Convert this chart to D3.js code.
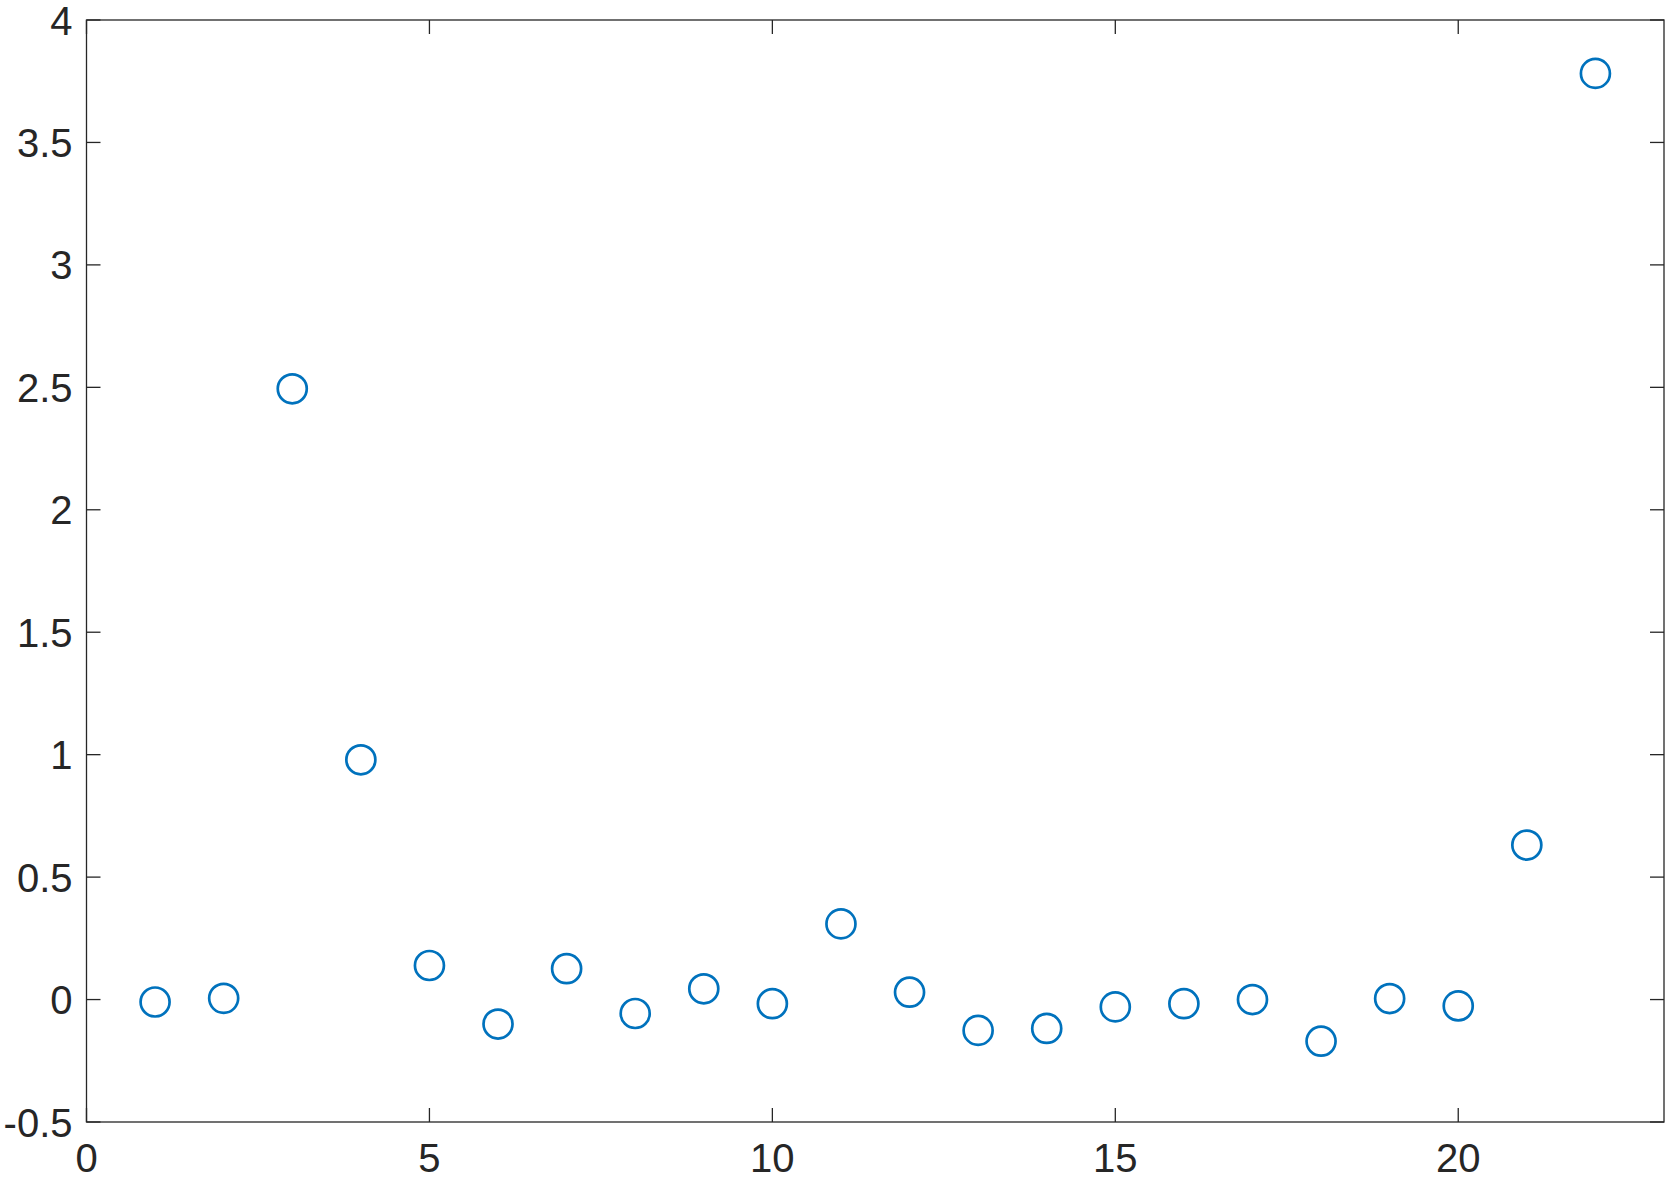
<!DOCTYPE html>
<html>
  <head>
    <meta charset="utf-8">
    <title>scatter</title>
    <script src="https://cdn.jsdelivr.net/npm/d3@7"></script>
    <style>
      body { margin: 0; background: white; }
      svg { display: block; background-color: white; }
      text { font-family: "Liberation Sans", Arial, sans-serif; fill: #262626; }
      .frame { fill: none; stroke: #262626; stroke-width: 1.3px; }
      .tick-line { stroke: #262626; stroke-width: 1.3px; }
      .dot { fill: none; stroke: #0072BD; stroke-width: 2.7px; }
    </style>
  </head>
  <body>
    <svg></svg>
    <script>
      // data
      var xValues = [1, 2, 3, 4, 5, 6, 7, 8, 9, 10, 11, 12, 13, 14, 15, 16, 17, 18, 19, 20, 21, 22];
      var yValues = [-0.01, 0.005, 2.494, 0.979, 0.139, -0.10, 0.126, -0.057, 0.044, -0.017, 0.309,
                     0.030, -0.126, -0.118, -0.030, -0.017, 0.0, -0.170, 0.004, -0.026, 0.631, 3.782];
      var xTicks = [0, 5, 10, 15, 20];
      var yTicks = [-0.5, 0, 0.5, 1, 1.5, 2, 2.5, 3, 3.5, 4];

      //begin: layout config.
      var svgWidth = 1673,
          svgHeight = 1177,
          margin = {top: 20, right: 9, bottom: 55, left: 86.5},
          width = svgWidth - margin.left - margin.right,
          height = svgHeight - margin.top - margin.bottom,
          tickLen = 14,
          fontSize = 40;
      //end: layout config.

      var x = d3.scaleLinear().domain([0, 23]).range([0, width]);
      var y = d3.scaleLinear().domain([-0.5, 4]).range([height, 0]);

      var svg = d3.select("svg")
        .attr("width", svgWidth)
        .attr("height", svgHeight);

      var g = svg.append("g")
        .attr("transform", "translate(" + [margin.left, margin.top] + ")");

      // inward ticks on all four sides
      var ticks = g.append("g");
      xTicks.forEach(function(t) {
        var px = x(t);
        ticks.append("line").classed("tick-line", true)
          .attr("x1", px).attr("x2", px).attr("y1", height).attr("y2", height - tickLen);
        ticks.append("line").classed("tick-line", true)
          .attr("x1", px).attr("x2", px).attr("y1", 0).attr("y2", tickLen);
      });
      yTicks.forEach(function(t) {
        var py = y(t);
        ticks.append("line").classed("tick-line", true)
          .attr("x1", 0).attr("x2", tickLen).attr("y1", py).attr("y2", py);
        ticks.append("line").classed("tick-line", true)
          .attr("x1", width).attr("x2", width - tickLen).attr("y1", py).attr("y2", py);
      });

      g.append("rect").classed("frame", true)
        .attr("x", 0).attr("y", 0).attr("width", width).attr("height", height);

      // tick labels
      g.selectAll(".xlabel")
        .data(xTicks)
        .enter().append("text")
          .attr("x", function(d) { return x(d); })
          .attr("y", height + 50)
          .attr("text-anchor", "middle")
          .style("font-size", fontSize + "px")
          .text(function(d) { return d; });

      g.selectAll(".ylabel")
        .data(yTicks)
        .enter().append("text")
          .attr("x", -14)
          .attr("y", function(d) { return y(d) + 14.5; })
          .attr("text-anchor", "end")
          .style("font-size", fontSize + "px")
          .text(function(d) { return d; });

      g.selectAll(".dot")
        .data(xValues)
        .enter().append("circle")
          .classed("dot", true)
          .attr("cx", function(d) { return x(d); })
          .attr("cy", function(d, i) { return y(yValues[i]); })
          .attr("r", 14.5);
    </script>
  </body>
</html>
